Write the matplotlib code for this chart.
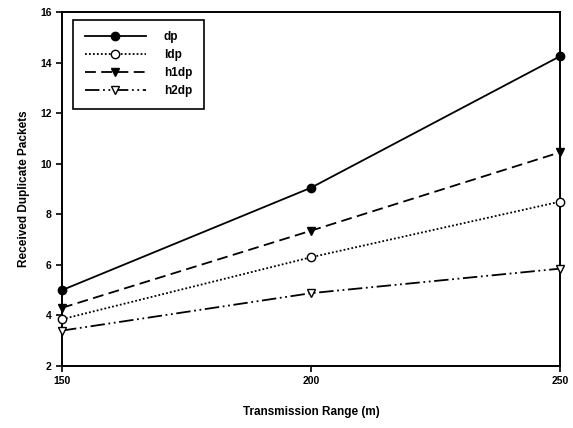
import matplotlib.pyplot as plt

plt.rcParams["font.family"] = ["Liberation Sans", "DejaVu Sans"]
plt.rcParams["font.weight"] = "bold"

ranges = [150, 200, 250]
dp = [5.0, 9.05, 14.25]
ldp = [3.85, 6.3, 8.5]
h1dp = [4.3, 7.35, 10.45]
h2dp = [3.4, 4.88, 5.85]

fig = plt.figure(figsize=(5.73, 4.28), dpi=100)
ax = fig.add_axes([62 / 573, 1 - 366 / 428, (560 - 62) / 573, (366 - 12) / 428])

kw = dict(color="black", linewidth=1.3, markersize=6, clip_on=False, zorder=3)
ax.plot(ranges, dp, linestyle="-", marker="o", markerfacecolor="black", label="dp", **kw)
ax.plot(ranges, ldp, linestyle=(0, (1, 1.2)), marker="o", markerfacecolor="white", label="ldp", **kw)
ax.plot(ranges, h1dp, linestyle=(0, (6, 3)), marker="v", markerfacecolor="black", label="h1dp", **kw)
ax.plot(ranges, h2dp, linestyle=(0, (8, 2, 1, 2, 1, 2)), marker="v", markerfacecolor="white", label="h2dp", **kw)

ax.set_xlim(150, 250)
ax.set_ylim(2, 16)
ax.set_xticks(ranges)
ax.set_yticks(range(2, 17, 2))
ax.tick_params(axis="both", direction="out", length=4, width=1.2, labelsize=7.5)
for s in ax.spines.values():
    s.set_linewidth(1.4)

ax.set_xlabel("Transmission Range (m)", fontsize=8.5, fontweight="bold", labelpad=14)
ax.set_ylabel("Received Duplicate Packets", fontsize=8.5, fontweight="bold", labelpad=7)

leg = ax.legend(loc="upper left", bbox_to_anchor=(0.01, 0.995), fancybox=False,
                edgecolor="black", framealpha=1, fontsize=8.5, handlelength=5.2,
                borderpad=1.0, labelspacing=0.5, handletextpad=1.5)
leg.get_frame().set_linewidth(1.2)

fig.savefig("out.png", dpi=100)
